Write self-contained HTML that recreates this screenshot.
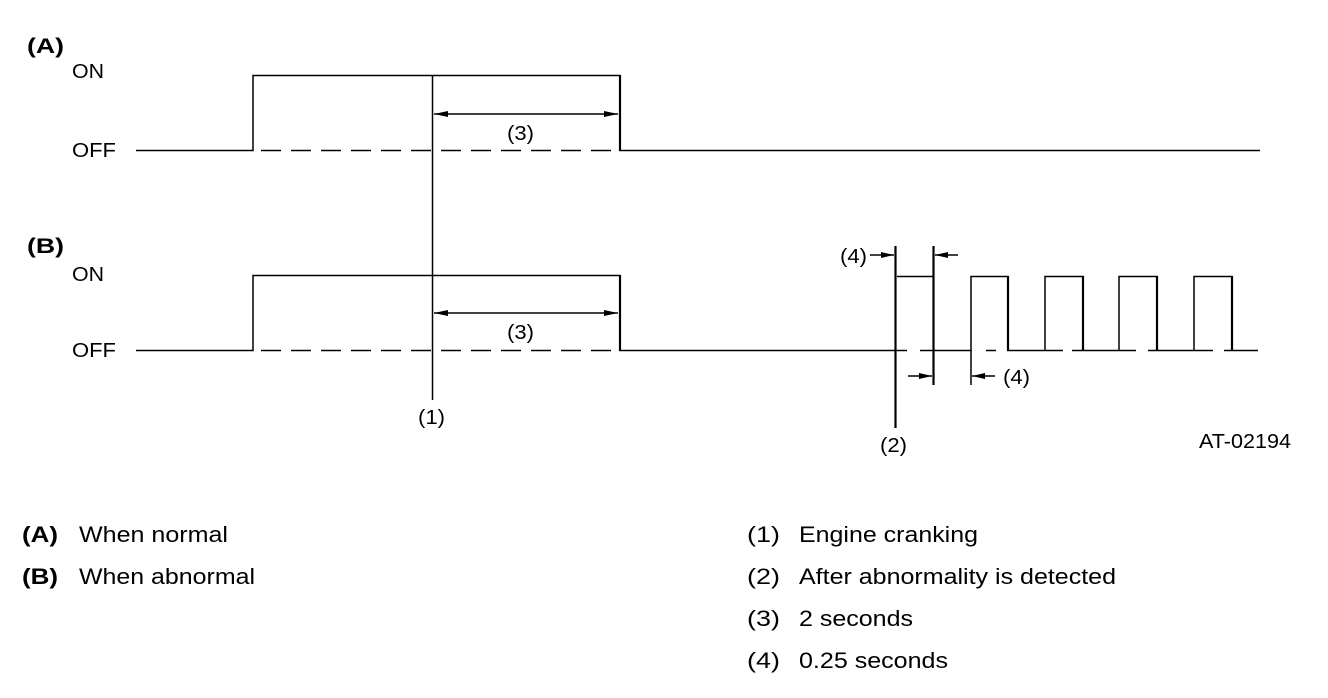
<!DOCTYPE html>
<html><head><meta charset="utf-8"><style>
html,body{margin:0;padding:0;background:#fff;}
svg{display:block;font-family:"Liberation Sans",Arial,sans-serif;}
</style></head><body>
<svg width="1328" height="698" viewBox="0 0 1328 698" xmlns="http://www.w3.org/2000/svg">
<g stroke="#000" fill="none" stroke-width="1.5">
<path d="M136,150.5 H253 V75.5 H620 V150.5 H1260"/>
<line x1="253" y1="150.5" x2="620" y2="150.5" stroke-dasharray="20,10" stroke-dashoffset="-8"/>
<line x1="620" y1="75" x2="620" y2="151" stroke-width="2.2"/>
<line x1="432.5" y1="75" x2="432.5" y2="400"/>
<path d="M136,350.5 H253 V275.5 H620 V350.5 H907"/>
<line x1="253" y1="350.5" x2="620" y2="350.5" stroke-dasharray="20,10" stroke-dashoffset="-8"/>
<line x1="620" y1="275" x2="620" y2="351" stroke-width="2.2"/>
<line x1="434" y1="114" x2="618" y2="114"/>
<line x1="434" y1="313" x2="618" y2="313"/>
<path d="M920,350.5 H971 V276.5 H1008 V350.5 H1063 M1072,350.5 H1083 M1045,350.5 V276.5 H1083 V350.5 M1072,350.5 H1136 M1148,350.5 H1157 M1119,350.5 V276.5 H1157 V350.5 H1213 M1224,350.5 H1232 M1194,350.5 V276.5 H1232 V350.5 H1258 M986,350.5 H996"/>
<path d="M897,276.5 H933"/>
<line x1="895.5" y1="246" x2="895.5" y2="428" stroke-width="2.2"/>
<line x1="933.5" y1="246" x2="933.5" y2="385" stroke-width="2.2"/>
<line x1="971" y1="350" x2="971" y2="385"/>
<line x1="1008" y1="276" x2="1008" y2="351" stroke-width="2.2"/>
<line x1="1083" y1="276" x2="1083" y2="351" stroke-width="2.2"/>
<line x1="1157" y1="276" x2="1157" y2="351" stroke-width="2.2"/>
<line x1="1232" y1="276" x2="1232" y2="351" stroke-width="2.2"/>
<line x1="870" y1="255" x2="894" y2="255"/>
<line x1="935" y1="255" x2="958" y2="255"/>
<line x1="908" y1="376" x2="932" y2="376"/>
<line x1="972" y1="376" x2="995" y2="376"/>
</g>
<g fill="#000">
<path d="M434,114 L448,111 L448,117 z"/><path d="M618,114 L604,111 L604,117 z"/>
<path d="M434,313 L448,310 L448,316 z"/><path d="M618,313 L604,310 L604,316 z"/>
<path d="M894,255 L881,252 L881,258 z"/>
<path d="M935,255 L948,252 L948,258 z"/>
<path d="M932,376 L919,373 L919,379 z"/>
<path d="M972,376 L985,373 L985,379 z"/>
</g>
<g font-size="20" fill="#000">
<text x="27" y="53" font-weight="bold" font-size="21" textLength="37" lengthAdjust="spacingAndGlyphs">(A)</text>
<text x="72" y="78" textLength="32" lengthAdjust="spacingAndGlyphs">ON</text>
<text x="72" y="157" textLength="44" lengthAdjust="spacingAndGlyphs">OFF</text>
<text x="27" y="253" font-weight="bold" font-size="21" textLength="37" lengthAdjust="spacingAndGlyphs">(B)</text>
<text x="72" y="281" textLength="32" lengthAdjust="spacingAndGlyphs">ON</text>
<text x="72" y="357" textLength="44" lengthAdjust="spacingAndGlyphs">OFF</text>
<text x="507" y="140" textLength="27" lengthAdjust="spacingAndGlyphs">(3)</text>
<text x="507" y="339" textLength="27" lengthAdjust="spacingAndGlyphs">(3)</text>
<text x="418" y="424" textLength="27" lengthAdjust="spacingAndGlyphs">(1)</text>
<text x="880" y="452" textLength="27" lengthAdjust="spacingAndGlyphs">(2)</text>
<text x="840" y="263" textLength="27" lengthAdjust="spacingAndGlyphs">(4)</text>
<text x="1003" y="384" textLength="27" lengthAdjust="spacingAndGlyphs">(4)</text>
<text x="1199" y="448" textLength="92" lengthAdjust="spacingAndGlyphs">AT-02194</text>
</g>
<g font-size="22" fill="#000">
<text x="22" y="542" font-weight="bold" textLength="36" lengthAdjust="spacingAndGlyphs">(A)</text><text x="79" y="542" textLength="149" lengthAdjust="spacingAndGlyphs">When normal</text>
<text x="22" y="584" font-weight="bold" textLength="36" lengthAdjust="spacingAndGlyphs">(B)</text><text x="79" y="584" textLength="176" lengthAdjust="spacingAndGlyphs">When abnormal</text>
<text x="747" y="542" textLength="33" lengthAdjust="spacingAndGlyphs">(1)</text><text x="799" y="542" textLength="179" lengthAdjust="spacingAndGlyphs">Engine cranking</text>
<text x="747" y="584" textLength="33" lengthAdjust="spacingAndGlyphs">(2)</text><text x="799" y="584" textLength="317" lengthAdjust="spacingAndGlyphs">After abnormality is detected</text>
<text x="747" y="626" textLength="33" lengthAdjust="spacingAndGlyphs">(3)</text><text x="799" y="626" textLength="114" lengthAdjust="spacingAndGlyphs">2 seconds</text>
<text x="747" y="668" textLength="33" lengthAdjust="spacingAndGlyphs">(4)</text><text x="799" y="668" textLength="149" lengthAdjust="spacingAndGlyphs">0.25 seconds</text>
</g>
</svg>
</body></html>
